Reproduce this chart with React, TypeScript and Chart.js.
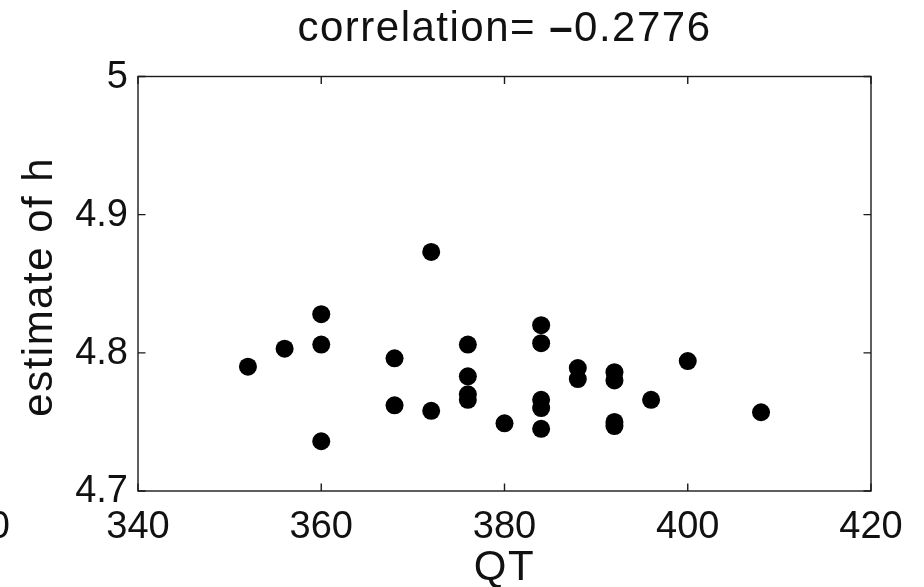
import React, { useEffect, useRef } from 'react';
import { Chart, registerables } from 'chart.js';

Chart.register(...registerables);

const titleText = 'correlation= ';
const titleValue = '0.2776';
const xLabel = 'QT';
const yLabel = 'estimate of h';

const xTicks = [340, 360, 380, 400, 420];
const yTicks = [4.7, 4.8, 4.9, 5];
const yTickLabels = ['4.7', '4.8', '4.9', '5'];

const qtValues = [352, 356, 360, 360, 360, 368, 368, 372, 372, 376, 376, 376, 376, 380, 384, 384, 384, 384, 384, 388, 388, 392, 392, 392, 392, 396, 400, 408];
const hValues = [4.790, 4.803, 4.828, 4.806, 4.736, 4.796, 4.762, 4.873, 4.758, 4.806, 4.783, 4.770, 4.766, 4.749, 4.820, 4.807, 4.766, 4.760, 4.745, 4.789, 4.781, 4.786, 4.780, 4.750, 4.747, 4.766, 4.794, 4.757];

const FONT = '"Liberation Sans", Arial, Helvetica, sans-serif';

const framePlugin = {
  id: 'matlabFrame',
  afterDatasetsDraw(chart: any) {
    const ctx = chart.ctx as CanvasRenderingContext2D;
    const { left, right, top, bottom } = chart.chartArea;
    const xs = chart.scales.x;
    const ys = chart.scales.y;
    ctx.save();
    ctx.strokeStyle = '#1a1a1a';
    ctx.lineWidth = 1.4;
    ctx.strokeRect(left, top, right - left, bottom - top);
    const tl = 7.5;
    ctx.beginPath();
    xTicks.forEach((v) => {
      const px = xs.getPixelForValue(v);
      ctx.moveTo(px, bottom);
      ctx.lineTo(px, bottom - tl);
      ctx.moveTo(px, top);
      ctx.lineTo(px, top + tl);
    });
    yTicks.forEach((v) => {
      const py = ys.getPixelForValue(v);
      ctx.moveTo(left, py);
      ctx.lineTo(left + tl, py);
      ctx.moveTo(right, py);
      ctx.lineTo(right - tl, py);
    });
    ctx.stroke();

    // tick labels
    ctx.fillStyle = '#111';
    ctx.font = `38px ${FONT}`;
    ctx.textAlign = 'center';
    ctx.textBaseline = 'alphabetic';
    xTicks.forEach((v) => {
      ctx.fillText(String(v), xs.getPixelForValue(v), 538);
    });
    ctx.textAlign = 'right';
    ctx.textBaseline = 'middle';
    yTicks.forEach((v, i) => {
      ctx.fillText(yTickLabels[i], left - 10, ys.getPixelForValue(v) + 1);
    });
    // clipped label of neighbouring panel
    ctx.textBaseline = 'alphabetic';
    ctx.fillText(String(xTicks[xTicks.length - 1]), 10, 538);

    // axis labels
    const lf = `42px ${FONT}`;
    ctx.font = lf;
    (ctx as any).letterSpacing = '1.5px';
    ctx.textAlign = 'center';
    ctx.fillText(xLabel, (left + right) / 2, 580);
    ctx.save();
    ctx.translate(52, (top + bottom) / 2 + 3);
    ctx.rotate(-Math.PI / 2);
    ctx.fillText(yLabel, 0, 0);
    ctx.restore();

    // title
    ctx.font = lf;
    const w1 = ctx.measureText(titleText).width;
    ctx.font = `bold 42px ${FONT}`;
    const wm = ctx.measureText('\u2013').width;
    ctx.font = lf;
    const w2 = ctx.measureText(titleValue).width;
    const total = w1 + wm + w2;
    let x0 = (left + right) / 2 - total / 2;
    ctx.textAlign = 'left';
    ctx.fillText(titleText, x0, 41);
    ctx.font = `bold 42px ${FONT}`;
    ctx.fillText('\u2013', x0 + w1, 41);
    ctx.font = lf;
    ctx.fillText(titleValue, x0 + w1 + wm, 41);
    (ctx as any).letterSpacing = '0px';
    ctx.restore();
  },
};

export default function App() {
  const ref = useRef<HTMLCanvasElement | null>(null);
  useEffect(() => {
    if (!ref.current) return;
    const data = qtValues.map((x, i) => ({ x, y: hValues[i] }));
    const chart = new Chart(ref.current, {
      type: 'scatter',
      data: {
        datasets: [
          {
            data,
            pointRadius: 9,
            pointHoverRadius: 9,
            pointBackgroundColor: '#000',
            pointBorderWidth: 0,
            pointBorderColor: '#000',
          },
        ],
      },
      options: {
        animation: false,
        responsive: false,
        devicePixelRatio: 1,
        layout: { padding: { left: 138, right: 53, top: 76.5, bottom: 96 } },
        plugins: { legend: { display: false }, tooltip: { enabled: false }, title: { display: false } },
        scales: {
          x: { type: 'linear', min: 340, max: 420, display: false, ticks: { stepSize: 20 } },
          y: { type: 'linear', min: 4.7, max: 5, display: false, ticks: { stepSize: 0.1 } },
        },
        events: [],
      },
      plugins: [framePlugin],
    });
    return () => chart.destroy();
  }, []);
  return (
    <div style={{ position: 'fixed', left: 0, top: 0, width: 924, height: 587, background: '#fff' }}>
      <canvas ref={ref} width={924} height={587} style={{ display: 'block', width: 924, height: 587 }} />
    </div>
  );
}
